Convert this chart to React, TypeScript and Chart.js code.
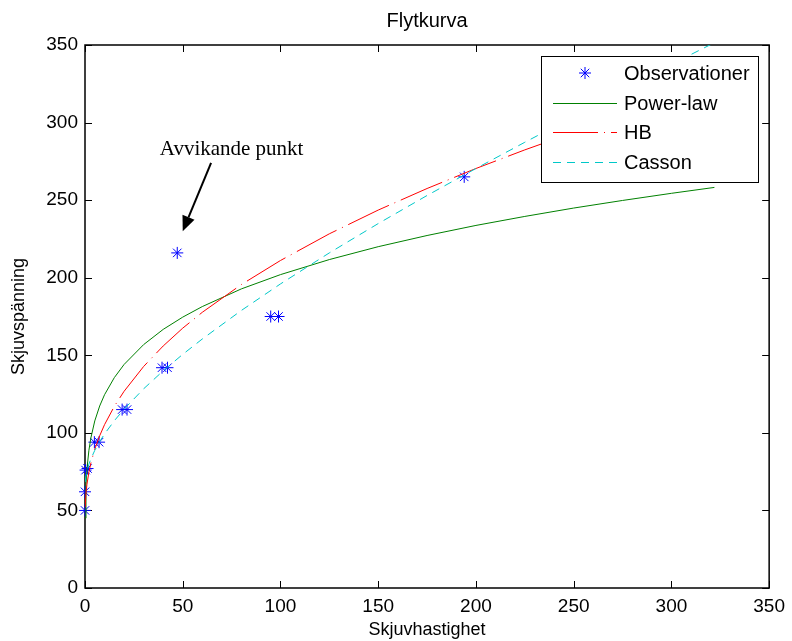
import React, { useEffect, useRef } from 'react';
import { Chart, registerables } from 'chart.js';

Chart.register(...registerables);

// ---------- data ----------
const obsX = [0, 0, 0.3, 1.3, 4.8, 7.2, 19, 21.5, 39.4, 42.2, 47.2, 95, 99, 194];
const obsY = [50, 62, 76, 77, 94, 94, 115, 115, 142, 142, 216, 175, 175, 265];

const curveX = [0.08, 0.5, 1, 2, 3, 5, 7.5, 10, 15, 20, 30, 40, 50, 60, 80, 100, 125, 150, 175, 200, 225, 250, 275, 300, 322];
const powerLawY = [45, 66.4, 76.8, 88.8, 96.7, 107.7, 117.3, 124.6, 135.6, 144.1, 156.9, 166.7, 174.6, 181.4, 192.8, 202.0, 211.7, 220.0, 227.2, 233.7, 239.5, 244.9, 249.8, 254.4, 258.2];
const hbY = [52.2, 61.1, 66.9, 74.7, 80.5, 89.5, 98.1, 105.3, 117.1, 126.8, 142.8, 156.0, 167.5, 177.7, 195.6, 211.1, 228.3, 243.6, 257.5, 270.4, 282.4, 293.6, 304.3, 314.4, 322.8];
const cassonY = [68.3, 72.5, 75.5, 79.8, 83.2, 88.7, 94.4, 99.3, 107.8, 115.3, 128.4, 140.0, 150.6, 160.5, 178.9, 196.0, 216.0, 234.9, 253.0, 270.4, 287.3, 303.8, 321.0, 337.5, 351.5];

const xTicks = [0, 50, 100, 150, 200, 250, 300, 350];
const yTicks = [0, 50, 100, 150, 200, 250, 300, 350];

const seriesLabels = ['Observationer', 'Power-law', 'HB', 'Casson'];
const titleText = 'Flytkurva';
const xTitle = 'Skjuvhastighet';
const yTitle = 'Skjuvspänning';

const annotationText = 'Avvikande punkt';
const annotationTextPos = [75, 279];
const annotationArrowFrom = [64.5, 274];
const annotationArrowTo = [50, 230];

// ---------- styles ----------
const SANS = '"Liberation Sans", Arial, Helvetica, sans-serif';
const SERIF = '"Liberation Serif", "Times New Roman", Times, serif';

function drawStar(ctx: CanvasRenderingContext2D, x: number, y: number, r: number) {
  const d = r * Math.SQRT1_2;
  ctx.beginPath();
  ctx.moveTo(x - r, y); ctx.lineTo(x + r, y);
  ctx.moveTo(x, y - r); ctx.lineTo(x, y + r);
  ctx.moveTo(x - d, y - d); ctx.lineTo(x + d, y + d);
  ctx.moveTo(x - d, y + d); ctx.lineTo(x + d, y - d);
  ctx.stroke();
}

const framePlugin = {
  id: 'frameTicks',
  beforeDatasetsDraw(chart: any) {
    const { ctx, chartArea: a, scales } = chart;
    ctx.save();
    ctx.strokeStyle = '#000';
    ctx.lineWidth = 1;
    const L = 7;
    ctx.beginPath();
    xTicks.forEach((v) => {
      const px = Math.round(scales.x.getPixelForValue(v)) + 0.5;
      ctx.moveTo(px, a.bottom); ctx.lineTo(px, a.bottom - L);
      ctx.moveTo(px, a.top); ctx.lineTo(px, a.top + L);
    });
    yTicks.forEach((v) => {
      const py = Math.round(scales.y.getPixelForValue(v)) + 0.5;
      ctx.moveTo(a.left, py); ctx.lineTo(a.left + L, py);
      ctx.moveTo(a.right, py); ctx.lineTo(a.right - L, py);
    });
    ctx.stroke();
    ctx.lineWidth = 1.5;
    ctx.strokeRect(a.left, a.top, a.right - a.left, a.bottom - a.top);
    ctx.restore();
  },
};

const legendPlugin = {
  id: 'insideLegend',
  afterDatasetsDraw(chart: any) {
    const { ctx } = chart;
    const bx = 541, by = 56, bw = 217, bh = 126;
    ctx.save();
    ctx.fillStyle = '#fff';
    ctx.fillRect(bx, by, bw, bh);
    ctx.strokeStyle = '#000';
    ctx.lineWidth = 1;
    ctx.strokeRect(bx + 0.5, by + 0.5, bw, bh);
    const rows = [73, 103, 132, 162];
    chart.data.datasets.forEach((ds: any, i: number) => {
      const y = rows[i];
      ctx.strokeStyle = ds.borderColor;
      ctx.lineWidth = ds.borderWidth || 1;
      if (ds.showLine === false) {
        drawStar(ctx, 585, y, 6);
      } else {
        ctx.setLineDash(ds.borderDash || []);
        ctx.beginPath();
        ctx.moveTo(553, y + 0.5);
        ctx.lineTo(617, y + 0.5);
        ctx.stroke();
        ctx.setLineDash([]);
      }
      ctx.fillStyle = '#000';
      ctx.font = `20px ${SANS}`;
      ctx.textAlign = 'left';
      ctx.textBaseline = 'middle';
      ctx.fillText(ds.label, 624, y + 1);
    });
    ctx.restore();
  },
};

const annotationPlugin = {
  id: 'annotationAndTitle',
  afterDraw(chart: any) {
    const { ctx, scales, chartArea: a } = chart;
    ctx.save();
    // title
    ctx.fillStyle = '#000';
    ctx.font = `20px ${SANS}`;
    ctx.textAlign = 'center';
    ctx.textBaseline = 'alphabetic';
    ctx.fillText(titleText, (a.left + a.right) / 2, 26.5);
    // annotation text
    ctx.font = `21px ${SERIF}`;
    ctx.fillText(annotationText, scales.x.getPixelForValue(annotationTextPos[0]), scales.y.getPixelForValue(annotationTextPos[1]));
    // arrow
    const x1 = scales.x.getPixelForValue(annotationArrowFrom[0]);
    const y1 = scales.y.getPixelForValue(annotationArrowFrom[1]);
    const x2 = scales.x.getPixelForValue(annotationArrowTo[0]);
    const y2 = scales.y.getPixelForValue(annotationArrowTo[1]);
    const ang = Math.atan2(y2 - y1, x2 - x1);
    const hl = 15, hw = 6.5;
    const bxp = x2 - hl * Math.cos(ang), byp = y2 - hl * Math.sin(ang);
    ctx.strokeStyle = '#000';
    ctx.lineWidth = 2;
    ctx.beginPath();
    ctx.moveTo(x1, y1);
    ctx.lineTo(bxp, byp);
    ctx.stroke();
    ctx.fillStyle = '#000';
    ctx.beginPath();
    ctx.moveTo(x2, y2);
    ctx.lineTo(bxp + hw * Math.sin(ang), byp - hw * Math.cos(ang));
    ctx.lineTo(bxp - hw * Math.sin(ang), byp + hw * Math.cos(ang));
    ctx.closePath();
    ctx.fill();
    ctx.restore();
  },
};

export default function App() {
  const ref = useRef<HTMLCanvasElement | null>(null);

  useEffect(() => {
    document.body.style.margin = '0';
    if (!ref.current) return;
    const toPts = (xs: number[], ys: number[]) => xs.map((x, i) => ({ x, y: ys[i] }));
    const chart = new Chart(ref.current, {
      type: 'scatter',
      data: {
        datasets: [
          {
            label: seriesLabels[0],
            data: toPts(obsX, obsY),
            showLine: false,
            pointStyle: 'star',
            pointRadius: 6,
            pointBorderWidth: 1,
            borderColor: 'rgb(0,0,255)',
            backgroundColor: 'rgb(0,0,255)',
            pointBorderColor: 'rgb(0,0,255)',
            borderWidth: 1,
            clip: false,
            order: 10,
          },
          {
            label: seriesLabels[1],
            data: toPts(curveX, powerLawY),
            showLine: true,
            pointRadius: 0,
            borderColor: 'rgb(0,128,0)',
            borderWidth: 1,
            tension: 0,
            order: 3,
          },
          {
            label: seriesLabels[2],
            data: toPts(curveX, hbY),
            showLine: true,
            pointRadius: 0,
            borderColor: 'rgb(255,0,0)',
            borderWidth: 1,
            borderDash: [45, 6, 1, 6],
            tension: 0,
            order: 2,
          },
          {
            label: seriesLabels[3],
            data: toPts(curveX, cassonY),
            showLine: true,
            pointRadius: 0,
            borderColor: 'rgb(0,200,200)',
            borderWidth: 1,
            borderDash: [8, 6],
            tension: 0,
            order: 1,
          },
        ],
      },
      options: {
        animation: false,
        responsive: false,
        layout: { padding: { top: 45, right: 18, left: 0, bottom: 0 } },
        plugins: {
          legend: { display: false },
          title: { display: false },
          tooltip: { enabled: false },
        },
        scales: {
          x: {
            type: 'linear',
            min: 0,
            max: 350,
            afterFit: (s: any) => { s.height = 53; },
            afterBuildTicks: (s: any) => { s.ticks = xTicks.map((v) => ({ value: v })); },
            grid: { display: false, drawTicks: false },
            border: { display: false },
            ticks: { padding: 7, color: '#000', font: { family: SANS, size: 19 }, maxRotation: 0, autoSkip: false },
            title: { display: true, text: xTitle, color: '#000', font: { family: SANS, size: 18 }, padding: { top: 0, bottom: 0 } },
          },
          y: {
            type: 'linear',
            min: 0,
            max: 350,
            afterFit: (s: any) => { s.width = 85; },
            afterBuildTicks: (s: any) => { s.ticks = yTicks.map((v) => ({ value: v })); },
            grid: { display: false, drawTicks: false },
            border: { display: false },
            ticks: { padding: 7, color: '#000', font: { family: SANS, size: 19 }, autoSkip: false },
            title: { display: true, text: yTitle, color: '#000', font: { family: SANS, size: 18 }, padding: { top: 8, bottom: 0 } },
          },
        },
      },
      plugins: [framePlugin, legendPlugin, annotationPlugin],
    } as any);
    return () => chart.destroy();
  }, []);

  return (
    <div style={{ width: 792, height: 641, background: '#fff' }}>
      <canvas ref={ref} width={792} height={641} style={{ display: 'block' }} />
    </div>
  );
}
